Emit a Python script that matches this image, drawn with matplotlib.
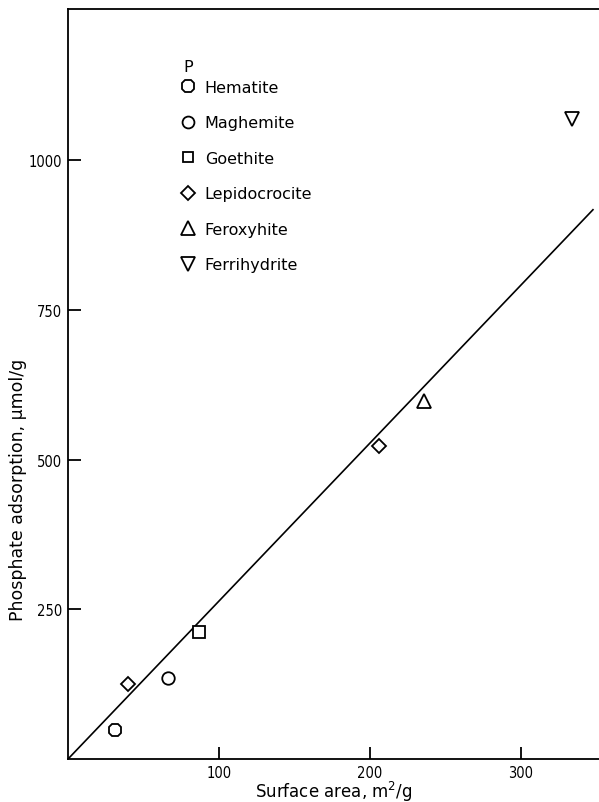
import matplotlib
matplotlib.use("Agg")
import matplotlib.pyplot as plt
from matplotlib.lines import Line2D

# Data
minerals = ["Hematite", "Maghemite", "Goethite", "Lepidocrocite", "Feroxyhite", "Ferrihydrite"]
markers = ["8", "o", "s", "D", "^", "v"]
surface_area = [[31], [66], [87], [40, 206], [236], [334]]
p_adsorption = [[49], [135], [212], [125, 523], [598], [1068]]

fit_x = [0, 348]
fit_y = [0, 917]

xticks = [100, 200, 300]
yticks = [250, 500, 750, 1000]

plt.rcParams['font.family'] = ['DejaVu Sans']

fig = plt.figure(figsize=(5.99, 8.03), dpi=100)
ax = fig.add_axes([0.1135, 0.0535, 0.8865, 0.934])

ax.plot(fit_x, fit_y, color='black', lw=1.2)

msizes = {"8": 10, "o": 9, "s": 8, "D": 7.5, "^": 10, "v": 10}
for name, m, xs, ys in zip(minerals, markers, surface_area, p_adsorption):
    ax.plot(xs, ys, linestyle='none', marker=m, ms=msizes[m], mfc='white',
            mec='black', mew=1.3, clip_on=False)

ax.set_xlim(0, 352)
ax.set_ylim(0, 1252)
ax.set_xticks(xticks)
ax.set_yticks(yticks)
ax.tick_params(direction='in', length=9, width=1.3, labelsize=10.5, pad=4)
for lab in ax.get_xticklabels() + ax.get_yticklabels():
    lab.set_fontstretch('condensed')

for s in ['left', 'bottom', 'top']:
    ax.spines[s].set_linewidth(1.3)
ax.spines['right'].set_visible(False)

ax.set_xlabel("Surface area, m$^2$/g", fontsize=12)
ax.xaxis.set_label_coords(0.5, -0.026)
ax.set_ylabel("Phosphate adsorption, μmol/g", fontsize=12.5)
ax.yaxis.set_label_coords(-0.078, 0.36)

ax.text(0.218, 0.924, "P", transform=ax.transAxes, fontsize=11.5,
        ha='left', va='center')

handles = [Line2D([], [], linestyle='none', marker=m, ms=msizes[m] * 0.95, mfc='white',
                  mec='black', mew=1.3) for m in markers]
leg = ax.legend(handles, minerals, loc='upper left',
                bbox_to_anchor=(0.199, 0.914), frameon=False, fontsize=11.5,
                labelspacing=1.28, handletextpad=0.55, handlelength=1.0,
                borderaxespad=0)

fig.savefig("out.png", dpi=100)
